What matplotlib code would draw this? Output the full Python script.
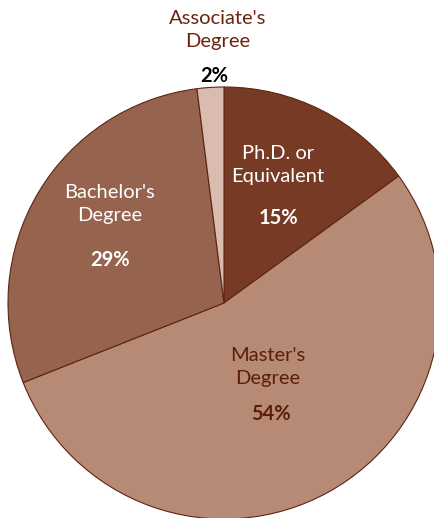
import matplotlib.pyplot as plt

# degree share data
categories = ["Ph.D. or\nEquivalent", "Master's\nDegree", "Bachelor's\nDegree", "Associate's\nDegree"]
shares = [15, 54, 29, 2]
colors = ["#773b25", "#b78a75", "#96634e", "#d9bcaf"]
name_colors = ["white", "#5b1e0c", "white", "#6b2410"]
pct_colors = ["white", "#5b1e0c", "white", "black"]

# label layout in pixels (name centre, percent centre)
name_pos = [(278, 165), (268, 367), (110, 204), (218, 30)]
pct_pos = [(278, 218), (271, 414), (110, 260), (214, 76)]

W, H = 435, 518
CX, CY, R = 224, 303, 216

plt.rcParams['font.family'] = ['Lato', 'DejaVu Sans']

fig = plt.figure(figsize=(W / 100, H / 100), dpi=100)
ax = fig.add_axes([0, 0, 1, 1])

wedges, _ = ax.pie(shares, colors=colors, startangle=90, counterclock=False,
                   wedgeprops=dict(edgecolor="#5e2412", linewidth=0.8))

ax.set_xlim(-CX / R, (W - CX) / R)
ax.set_ylim(-(H - CY) / R, CY / R)
ax.set_aspect('auto')
ax.axis('off')

for i, name in enumerate(categories):
    nx, ny = name_pos[i]
    px, py = pct_pos[i]
    fig.text(nx / W, 1 - ny / H, name, ha='center', va='center', fontsize=14.5,
             color=name_colors[i], linespacing=1.4)
    fig.text(px / W, 1 - py / H, f"{shares[i]}%", ha='center', va='center',
             fontsize=14.5, fontweight='bold', color=pct_colors[i])

fig.savefig("out.png", dpi=100)
